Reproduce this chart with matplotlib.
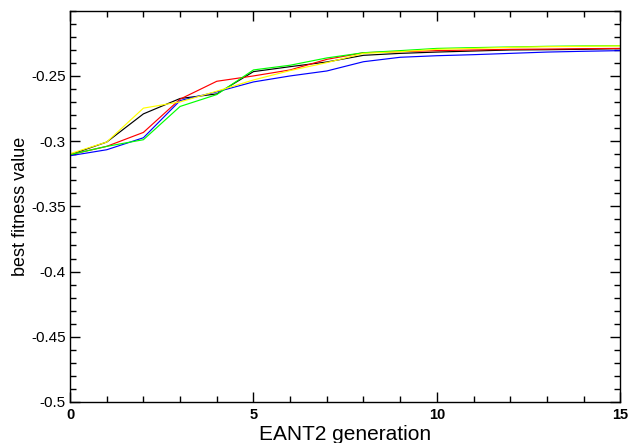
import matplotlib
matplotlib.use("Agg")
import matplotlib.pyplot as plt
from matplotlib.ticker import MultipleLocator

plt.rcParams.update({
    "font.family": "sans-serif",
    "font.sans-serif": ["Liberation Sans", "Arial", "DejaVu Sans"],
})

generations = list(range(16))

black = [-0.3104, -0.3007, -0.2791, -0.2673, -0.2638, -0.2467, -0.2429, -0.2393,
         -0.2342, -0.2327, -0.2317, -0.2309, -0.2301, -0.2299, -0.2296, -0.2291]
red = [-0.3104, -0.3040, -0.2933, -0.2678, -0.2541, -0.2500, -0.2454, -0.2373,
       -0.2322, -0.2314, -0.2306, -0.2301, -0.2296, -0.2294, -0.2291, -0.2289]
blue = [-0.3112, -0.3066, -0.2974, -0.2689, -0.2622, -0.2546, -0.2500, -0.2462,
        -0.2391, -0.2357, -0.2345, -0.2337, -0.2327, -0.2317, -0.2311, -0.2306]
green = [-0.3104, -0.3040, -0.2989, -0.2734, -0.2643, -0.2454, -0.2418, -0.2362,
         -0.2322, -0.2306, -0.2289, -0.2283, -0.2278, -0.2273, -0.2270, -0.2268]
yellow = [-0.3096, -0.3007, -0.2747, -0.2699, -0.2617, -0.2531, -0.2459, -0.2398,
          -0.2327, -0.2314, -0.2296, -0.2289, -0.2281, -0.2276, -0.2273, -0.2270]

series = [(black, "#000000"), (red, "#ff0000"), (blue, "#0000ff"),
          (green, "#00ff00"), (yellow, "#ffff00")]

fig = plt.figure(figsize=(6.31, 4.43), dpi=100, facecolor="white")
ax = fig.add_axes([0.111, 0.0926, 0.872, 0.8832])

for vals, col in series:
    ax.plot(generations, vals, color=col, linewidth=0.85)

ax.set_xlim(0, 15)
ax.set_ylim(-0.5, -0.2)
ax.xaxis.set_minor_locator(MultipleLocator(1))
ax.yaxis.set_minor_locator(MultipleLocator(0.01))
ax.set_yticks([-0.5, -0.45, -0.4, -0.35, -0.3, -0.25])
ax.set_yticklabels(["-0.5", "-0.45", "-0.4", "-0.35", "-0.3", "-0.25"])
ax.set_xticks([0, 5, 10, 15])
ax.set_xticklabels(["0", "5", "10", "15"], fontweight="bold")

ax.tick_params(which="both", direction="in", top=True, right=True, width=1.0,
               color="black")
ax.tick_params(which="major", length=7.5)
ax.tick_params(which="minor", length=4.5)
ax.tick_params(axis="x", pad=4, labelsize=10.5)
ax.tick_params(axis="y", pad=3, labelsize=11)
for sp in ax.spines.values():
    sp.set_linewidth(1.0)

ax.set_xlabel("EANT2 generation", fontsize=15, labelpad=2.5)
ax.set_ylabel("best fitness value", fontsize=13, labelpad=1.5)

fig.savefig("out.png", dpi=100, facecolor="white")
